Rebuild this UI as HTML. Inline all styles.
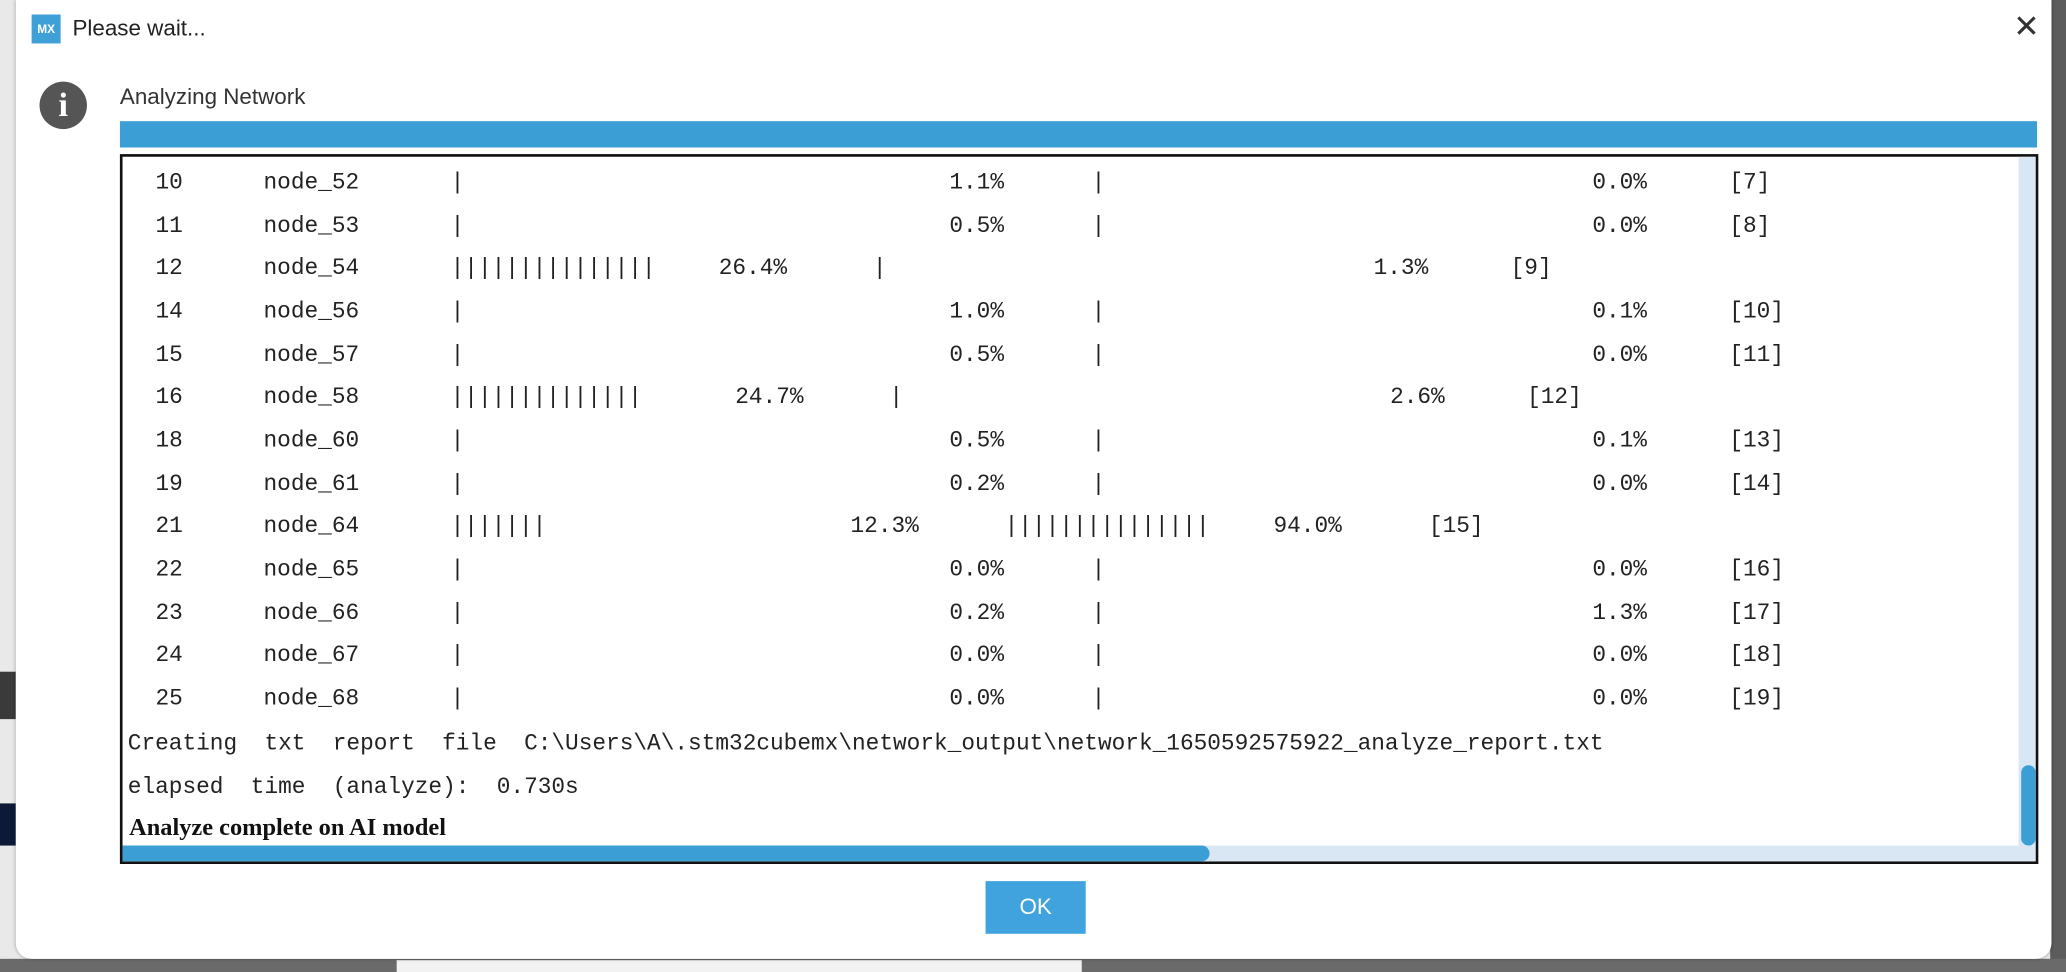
<!DOCTYPE html>
<html><head><meta charset="utf-8">
<style>
html,body{margin:0;padding:0;}
body{width:2066px;height:972px;overflow:hidden;background:#e6e6e6;position:relative;}
#stage{position:absolute;left:0;top:0;width:1568px;height:738px;transform-origin:0 0;transform:scale(1.31760,1.31707);background:#e9e9e9;font-family:"Liberation Sans",sans-serif;}
.abs{position:absolute;}
.mono{font-family:"Liberation Mono",monospace;font-size:17.3px;color:#222;white-space:pre;line-height:20px;}
</style></head><body>
<div id="stage">
  <div class="abs" style="left:1556px;top:0;width:12px;height:738px;background:#5c5c5c"></div>
  <div class="abs" style="left:0;top:728px;width:1568px;height:10px;background:#6a6a6a"></div>
  <div class="abs" style="left:300px;top:729px;width:520px;height:9px;background:#f2f2f2;border-left:1px solid #555"></div>
  <div class="abs" style="left:0;top:510px;width:12px;height:36px;background:#3a3a3a"></div>
  <div class="abs" style="left:0;top:610px;width:12px;height:32px;background:#0c1a38"></div>

  <div class="abs" style="left:12px;top:0;width:1545px;height:728px;background:#fff;border-radius:0 0 12px 12px;box-shadow:0 0 3px rgba(0,0,0,.3)">
  </div>
  <div class="abs" style="left:24px;top:11px;width:22px;height:22px;background:#3fa0d8;color:#fff;font-size:9px;font-weight:bold;text-align:center;line-height:22px">MX</div>
  <div class="abs" style="left:55px;top:11px;font-size:17px;color:#222;line-height:22px">Please wait...</div>
  <div class="abs" style="left:1528px;top:8px;font-size:24px;color:#333;line-height:26px">✕</div>
  <div class="abs" style="left:30px;top:62px;width:36px;height:36px;border-radius:50%;background:#555;color:#fff;font-family:'Liberation Serif',serif;font-weight:bold;font-size:26px;text-align:center;line-height:36px">i</div>
  <div class="abs" style="left:91px;top:63px;font-size:17px;color:#333;line-height:22px">Analyzing Network</div>
  <div class="abs" style="left:91px;top:92px;width:1455px;height:20px;background:#3b9fd6"></div>

  <div id="box" class="abs" style="left:91px;top:117px;width:1452px;height:535px;border:2px solid #111;background:#fff;overflow:hidden">
    <div class="abs" style="left:1439px;top:0;width:13px;height:535px;background:#d9e7f5"></div>
    <div class="abs" style="left:1441px;top:462px;width:11px;height:61px;border-radius:6px;background:#3b9fd6"></div>
    <div class="abs" style="left:0;top:523px;width:1439px;height:12px;background:#d9e7f5"></div>
    <div class="abs" style="left:0;top:523px;width:825px;height:12px;border-radius:0 6px 6px 0;background:#3b9fd6"></div>
    <div class="abs mono" style="left:4px;top:437px">Creating  txt  report  file  C:\Users\A\.stm32cubemx\network_output\network_1650592575922_analyze_report.txt</div>
    <div class="abs mono" style="left:4px;top:470px">elapsed  time  (analyze):  0.730s</div>
    <div class="abs" style="left:5px;top:499px;font-family:'Liberation Serif',serif;font-weight:bold;font-size:18.5px;color:#111;line-height:22px">Analyze complete on AI model</div>
  </div>

  <div class="abs" style="left:748px;top:669px;width:76px;height:40px;background:#41a3dd;color:#fff;font-size:17px;text-align:center;line-height:40px">OK</div>
</div>
<script>
const rowIds = [10,11,12,14,15,16,18,19,21,22,23,24,25];
const rowNodes = ["node_52","node_53","node_54","node_56","node_57","node_58","node_60","node_61","node_64","node_65","node_66","node_67","node_68"];
const bars1 = [1,1,15,1,1,14,1,1,7,1,1,1,1];
const pct1 = ["1.1%","0.5%","26.4%","1.0%","0.5%","24.7%","0.5%","0.2%","12.3%","0.0%","0.2%","0.0%","0.0%"];
const bars2 = [1,1,1,1,1,1,1,1,15,1,1,1,1];
const pct2 = ["0.0%","0.0%","1.3%","0.1%","0.0%","2.6%","0.1%","0.0%","94.0%","0.0%","1.3%","0.0%","0.0%"];
const refs = ["[7]","[8]","[9]","[10]","[11]","[12]","[13]","[14]","[15]","[16]","[17]","[18]","[19]"];
const box = document.getElementById('box');
const CW = 10.4, X0 = 249, TOP = 11, STEP = 32.67;
function add(txt, x, y, name){
  const d = document.createElement('div');
  d.className = 'abs mono';
  d.style.left = x + 'px'; d.style.top = y + 'px';
  d.textContent = txt;
  
  
  box.appendChild(d);
}
rowIds.forEach((id, i) => {
  const y = TOP + i * STEP;
  add(String(id), 25, y, 'row-index');
  add(rowNodes[i], 107, y, 'row-node-name');
  const p1x = 640 - 12.5 * bars1[i];
  add('|'.repeat(bars1[i]), X0, y, 'bar-col1');
  add(pct1[i], p1x, y, 'pct-col1');
  const b2x = p1x + (pct1[i].length >= 5 ? 117 : 108);
  add('|'.repeat(bars2[i]), b2x, y, 'bar-col2');
  const p2x = bars2[i] > 1 ? b2x + bars2[i] * CW + 48 : b2x + 380;
  add(pct2[i], p2x, y, 'pct-col2');
  add(refs[i], p2x + (pct2[i].length >= 5 ? 118 : 104), y, 'ref-index');
});
</script>
</body></html>
